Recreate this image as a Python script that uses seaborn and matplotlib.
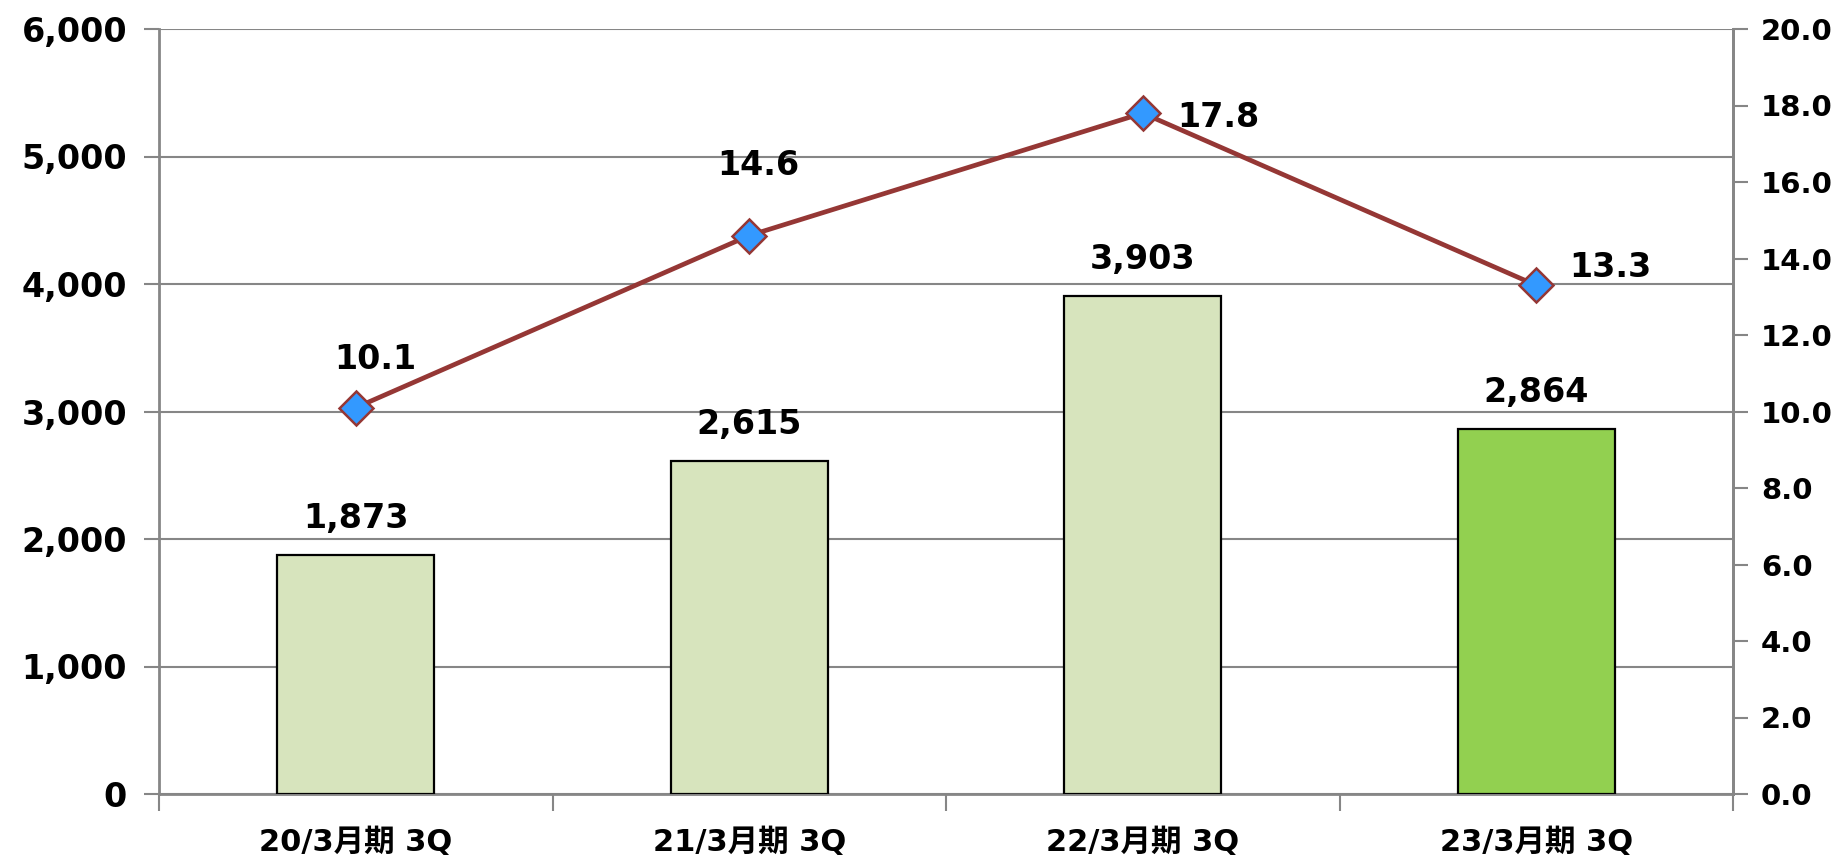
import numpy as np
import matplotlib
matplotlib.use("Agg")
import matplotlib.pyplot as plt
import seaborn as sns
from matplotlib.ticker import FuncFormatter, MultipleLocator

categories = ["20/3月期 3Q", "21/3月期 3Q", "22/3月期 3Q", "23/3月期 3Q"]
sales = [1873, 2615, 3903, 2864]
ratio = [10.1, 14.6, 17.8, 13.3]
bar_colors = ["#D7E4BD", "#D7E4BD", "#D7E4BD", "#92D050"]
ratio_label_offsets = [(20, 48), (9, 70), (76, -4), (74, 18)]  # pixels

sns.set_theme(style="white")
plt.rcParams['font.family'] = ['DejaVu Sans', 'Noto Sans CJK JP']
plt.rcParams['text.color'] = 'black'
plt.rcParams['xtick.labelcolor'] = 'black'
plt.rcParams['ytick.labelcolor'] = 'black'

FS = 24

fig = plt.figure(figsize=(18.45, 8.64), dpi=100)
ax = fig.add_axes([159/1845, 1-794/864, (1733-159)/1845, (794-29)/864])

grid_c = "#868686"
sns.barplot(x=categories, y=sales, hue=categories, palette=bar_colors, legend=False,
            edgecolor="black", linewidth=1.6, width=0.4, saturation=1, ax=ax, zorder=3)
ax.set_ylim(0, 6000)
ax.set_xlim(-0.5, len(categories) - 0.5)
ax.yaxis.set_major_locator(MultipleLocator(1000))
ax.yaxis.set_major_formatter(FuncFormatter(lambda v, p: f"{int(v):,}"))
ax.grid(axis="y", color=grid_c, linewidth=1.5, zorder=0)
ax.grid(axis="x", visible=False)
ax.set_axisbelow(True)
ax.set_xlabel("")
ax.set_ylabel("")
ax.spines["top"].set_visible(False)
for s in ["left", "bottom", "right"]:
    ax.spines[s].set_color(grid_c)
    ax.spines[s].set_linewidth(2)

# x ticks at category boundaries, labels in centers
ax.set_xticks(np.arange(-0.5, len(categories)), minor=False)
ax.set_xticklabels([""] * (len(categories) + 1))
ax.set_xticks(np.arange(len(categories)), minor=True)
ax.set_xticklabels(categories, minor=True)
ax.tick_params(axis="x", which="major", direction="out", length=12, width=1.5, color=grid_c, bottom=True)
ax.tick_params(axis="x", which="minor", length=0, pad=24, labelsize=22)
for t in ax.get_xticklabels(minor=True):
    t.set_fontweight("bold")
    t.set_fontfamily(['DejaVu Sans', 'Noto Sans CJK JP'])
ax.tick_params(axis="y", direction="out", length=11, width=1.5, color=grid_c, left=True,
               labelsize=FS, pad=12)
for t in ax.get_yticklabels():
    t.set_fontweight("bold")

for i, v in enumerate(sales):
    ax.annotate(f"{v:,}", (i, v), xytext=(0, 20), textcoords="offset pixels",
                ha="center", va="bottom", fontsize=FS, fontweight="bold", color="black")

ax2 = ax.twinx()
sns.lineplot(x=np.arange(len(ratio)), y=ratio, ax=ax2, color="#953735", linewidth=3.4,
             marker="D", markersize=17, markerfacecolor="#3399FF", markeredgecolor="#953735",
             markeredgewidth=1.8, zorder=5)
ax2.set_ylim(0, 20)
ax2.yaxis.set_major_locator(MultipleLocator(2))
ax2.yaxis.set_major_formatter(FuncFormatter(lambda v, p: f"{v:.1f}"))
ax2.grid(False)
for s in ["top", "left", "bottom"]:
    ax2.spines[s].set_visible(False)
ax2.spines["right"].set_color(grid_c)
ax2.spines["right"].set_linewidth(2)
ax2.tick_params(axis="y", direction="out", length=11, width=1.5, color=grid_c, right=True,
                labelsize=21, pad=9)
for t in ax2.get_yticklabels():
    t.set_fontweight("bold")

for i, v in enumerate(ratio):
    dx, dy = ratio_label_offsets[i]
    ax2.annotate(f"{v:.1f}", (i, v), xytext=(dx, dy), textcoords="offset pixels",
                 ha="center", va="center", fontsize=FS, fontweight="bold", color="black")

fig.savefig("out.png", dpi=100)
